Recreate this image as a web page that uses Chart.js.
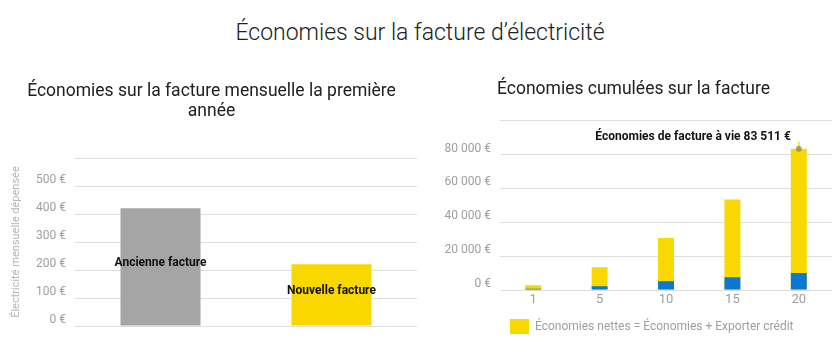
<!DOCTYPE html>
<html lang="fr">
<head>
<meta charset="utf-8">
<script src="https://cdn.jsdelivr.net/npm/chart.js@4"></script>
<style>
  body { margin: 0; background: #fff; width: 840px; height: 353px; position: relative; overflow: hidden; font-family: Roboto, sans-serif; }
  #main-title { position: absolute; left: 0; top: 17px; width: 840px; text-align: center; font-size: 23px; font-weight: 300; color: #212121; line-height: 32px; }
  #monthly { position: absolute; left: 0; top: 60px; }
  #cumulative { position: absolute; left: 420px; top: 60px; }
</style>
</head>
<body>
<div id="main-title">Économies sur la facture d’électricité</div>
<canvas id="monthly" width="420" height="293"></canvas>
<canvas id="cumulative" width="420" height="293"></canvas>
<script>
// monthly bill, first year
const billLabels = ['Ancienne facture', 'Nouvelle facture'];
const monthlyBill = [421, 221];
const billColors = ['#a5a5a5', '#f9d700'];

// cumulative savings per year
const years = ['1', '5', '10', '15', '20'];
const netSavings = [2800, 13500, 30800, 53500, 83511];
const exportCredit = [800, 2200, 5200, 7600, 10000];
const lifetimeSavings = 83511;

Chart.defaults.font.family = 'Roboto, sans-serif';

function euro(v) {
  return String(v).replace(/\B(?=(\d{3})+(?!\d))/g, ' ') + ' €';
}

// names written inside the grey / yellow bars
const barNames = {
  id: 'barNames',
  afterDatasetsDraw(chart) {
    const ctx = chart.ctx;
    const meta = chart.getDatasetMeta(0);
    ctx.save();
    ctx.font = 'bold 12px Roboto, sans-serif';
    ctx.fillStyle = '#111';
    ctx.textAlign = 'center';
    ctx.textBaseline = 'middle';
    meta.data.forEach((bar, i) => {
      ctx.fillText(chart.data.labels[i], bar.x, (bar.y + bar.base) / 2 - 4);
    });
    ctx.restore();
  }
};

// annotation on the last bar
const lifetimeNote = {
  id: 'lifetimeNote',
  afterDatasetsDraw(chart) {
    const bar = chart.getDatasetMeta(1).data[years.length - 1];
    const ctx = chart.ctx;
    ctx.save();
    ctx.strokeStyle = '#f9d700';
    ctx.lineWidth = 1.5;
    ctx.beginPath();
    ctx.moveTo(bar.x, bar.y - 7);
    ctx.lineTo(bar.x, bar.y);
    ctx.stroke();
    ctx.fillStyle = 'rgba(100,100,100,0.55)';
    ctx.beginPath();
    ctx.arc(bar.x, bar.y, 3, 0, Math.PI * 2);
    ctx.fill();
    ctx.font = 'bold 12px Roboto, sans-serif';
    ctx.fillStyle = '#111';
    ctx.textAlign = 'right';
    ctx.textBaseline = 'middle';
    ctx.fillText('Économies de facture à vie ' + euro(lifetimeSavings), bar.x - 8, bar.y - 11.5);
    ctx.restore();
  }
};

new Chart(document.getElementById('monthly'), {
  type: 'bar',
  data: {
    labels: billLabels,
    datasets: [{ data: monthlyBill, backgroundColor: billColors }]
  },
  options: {
    responsive: false,
    animation: false,
    layout: { padding: { left: 6, right: 3, top: 0, bottom: 27 } },
    datasets: { bar: { barPercentage: 0.468, categoryPercentage: 1 } },
    scales: {
      x: { display: false },
      y: {
        min: 0, max: 600,
        ticks: { stepSize: 100, color: '#9e9e9e', font: { size: 12 }, padding: 9, labelOffset: -6,
          callback: v => v === 600 ? '' : euro(v) },
        grid: { color: '#dedede', drawTicks: false },
        border: { display: false },
        title: { display: true, text: 'Électricité mensuelle dépensée', color: '#b5b5b5',
          font: { size: 11 }, padding: { top: 4, bottom: 0 } },
        afterFit(scale) { scale.width = 69; }
      }
    },
    plugins: {
      title: {
        display: true,
        text: ['Économies sur la facture mensuelle la première', 'année'],
        color: '#212121',
        font: { size: 17.5, weight: 'normal', lineHeight: 1.13 },
        padding: { top: 21.5, bottom: 37 }
      },
      legend: { display: false },
      tooltip: { enabled: false }
    }
  },
  plugins: [barNames]
});

new Chart(document.getElementById('cumulative'), {
  type: 'bar',
  data: {
    labels: years,
    datasets: [
      { label: 'Exporter crédit', data: exportCredit, backgroundColor: '#0a78d2' },
      { label: 'Économies nettes = Économies + Exporter crédit', data: netSavings, backgroundColor: '#f9d700' }
    ]
  },
  options: {
    responsive: false,
    animation: false,
    layout: { padding: { left: 15, right: 8, top: 0, bottom: 9 } },
    datasets: { bar: { barPercentage: 0.24, categoryPercentage: 1 } },
    scales: {
      x: {
        stacked: true,
        grid: { display: false, drawTicks: false },
        border: { display: false },
        ticks: { color: '#9e9e9e', font: { size: 13, lineHeight: 1.0 }, padding: 3 }
      },
      y: {
        min: 0, max: 100000,
        ticks: { stepSize: 20000, color: '#9e9e9e', font: { size: 12 }, padding: 9, labelOffset: -6,
          callback: v => v === 100000 ? '' : euro(v) },
        grid: { color: '#dedede', drawTicks: false },
        border: { display: false },
        afterFit(scale) { scale.width = 65; }
      }
    },
    plugins: {
      title: {
        display: true,
        text: 'Économies cumulées sur la facture',
        color: '#212121',
        font: { size: 17.5, weight: 'normal', lineHeight: 1.13 },
        padding: { top: 20, bottom: 21 }
      },
      legend: {
        position: 'bottom',
        align: 'start',
        fullSize: false,
        labels: {
          boxWidth: 19, boxHeight: 15, padding: 10,
          color: '#9e9e9e', font: { size: 12 },
          filter: item => item.datasetIndex === 1
        }
      },
      tooltip: { enabled: false }
    }
  },
  plugins: [lifetimeNote]
});
</script>
</body>
</html>
